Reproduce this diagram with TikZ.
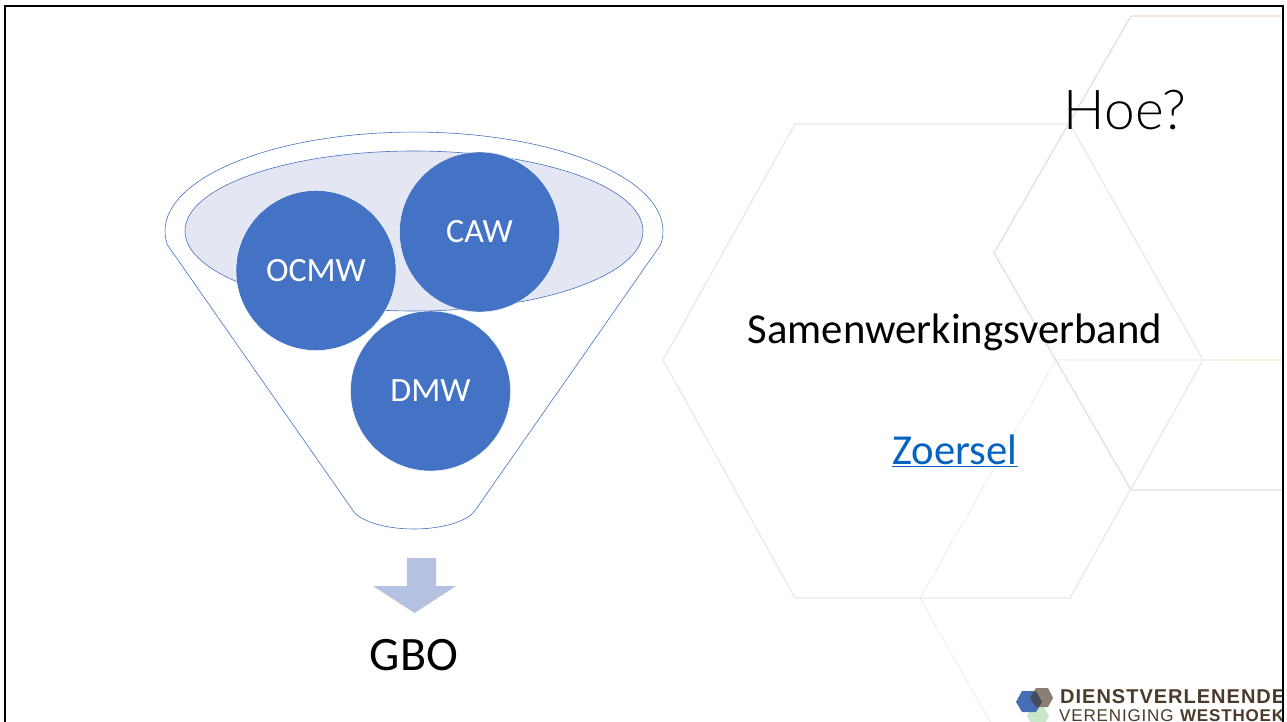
\documentclass[tikz,border=0pt]{standalone}
\usepackage{fontspec}
\setmainfont{Carlito}
\newfontfamily\logofont[LetterSpace=5]{Liberation Sans}
\newfontfamily\lightfont{Lato Light}
\definecolor{slideblue}{HTML}{4472C4}
\definecolor{rimfill}{HTML}{E4E7F3}
\definecolor{arrowfill}{HTML}{B4C1E1}
\definecolor{linkblue}{HTML}{0563C1}
\definecolor{logobrown}{HTML}{4A3B2A}
\definecolor{rosehex}{HTML}{EADCD2}
\definecolor{sandhex}{HTML}{F3F1E8}
\begin{document}
\begin{tikzpicture}[x=1pt,y=1pt,
	bubble/.style={circle,draw=white,fill=slideblue,text=white,minimum size=160pt,inner sep=0pt,font=\fontsize{34}{38}\selectfont},
	label/.style={inner sep=0pt,font=\fontsize{42.7}{48}\selectfont},
	rim/.style={draw=slideblue,line width=0.6pt},
	hexgray/.style={draw=black!9,line width=1.2pt},
	hexrose/.style={draw=rosehex,line width=1.2pt},
	hexsand/.style={draw=sandhex,line width=1.2pt}]
      \useasboundingbox (0,0) rectangle (1287,-722);
      \fill [white] (0,0) rectangle (1287,-722);

      \begin{scope}
      \clip (0,0) rectangle (1283,-722);
      \draw [hexsand] (1287,-360) -- (1056,-360) -- (920,-598) -- (1055,-836);
      \draw [hexrose] (1287,-16) -- (1131,-16) -- (994,-253) -- (1131,-490) -- (1287,-490);
      \draw [hexgray] (795,-124) -- (1070,-124) -- (1203,-360) -- (1070,-598)
        -- (795,-598) -- (663,-360) -- cycle;
      \draw [hexsand] (1203,-360) -- (1287,-360);

      \fill [green!40!gray!30] (1027,-716) -- (1032,-707) -- (1044,-707) -- (1049,-716)
        -- (1044,-725) -- (1032,-725) -- cycle;
      \fill [slideblue!90!black,opacity=0.95] (1016,-702) -- (1022,-691) -- (1036,-691) -- (1042,-702)
        -- (1036,-712) -- (1022,-712) -- cycle;
      \fill [logobrown,opacity=0.65] (1030,-698) -- (1036,-688) -- (1048,-688) -- (1053,-698)
        -- (1048,-707) -- (1036,-707) -- cycle;
      \node [anchor=base west,inner sep=0pt,text=logobrown,font=\logofont\bfseries\fontsize{20}{22}\selectfont] (logotop) at (1060,-703) {DIENSTVERLENENDE};
      \node [anchor=base west,inner sep=0pt,text=logobrown,font=\logofont\fontsize{17}{19}\selectfont] (logobottom) at (1059,-721.5) {VERENIGING \textbf{WESTHOEK}};
      \end{scope}

      \draw [black,line width=2pt] (5,-722) -- (5,-6) -- (1283,-6) -- (1283,-722);

      \draw [rim] (354,-512) -- (167.5,-245)
        arc [start angle=188.1,end angle=-8.1,x radius=249,y radius=99]
        -- (474,-512)
        arc [start angle=340,end angle=200,x radius=64,y radius=25.8];
      \draw [rim,fill=rimfill] (414,-231) ellipse [x radius=229,y radius=80];

      \node [bubble] (ocmw) at (316,-270.5) {OCMW};
      \node [bubble] (caw) at (479.5,-232) {CAW};
      \node [bubble] (dmw) at (430.5,-391) {DMW};

      \fill [arrowfill] (407,-558) -- (436,-558) -- (436,-586) -- (456,-586)
        -- (414.5,-613) -- (373,-586) -- (407,-586) -- cycle;

      \node [label,font=\fontsize{48}{54}\selectfont] (gbo) at (414,-655) {GBO};
      \node [label] (verband) at (955,-332.5) {Samenwerkingsverband};
      \node [label,text=linkblue] (zoersel) at (955,-451) {\underline{Zoersel}};
      \node [label,font=\lightfont\fontsize{55}{62}\selectfont] (hoe) at (1125,-110) {Hoe?};
    \end{tikzpicture}
\end{document}
